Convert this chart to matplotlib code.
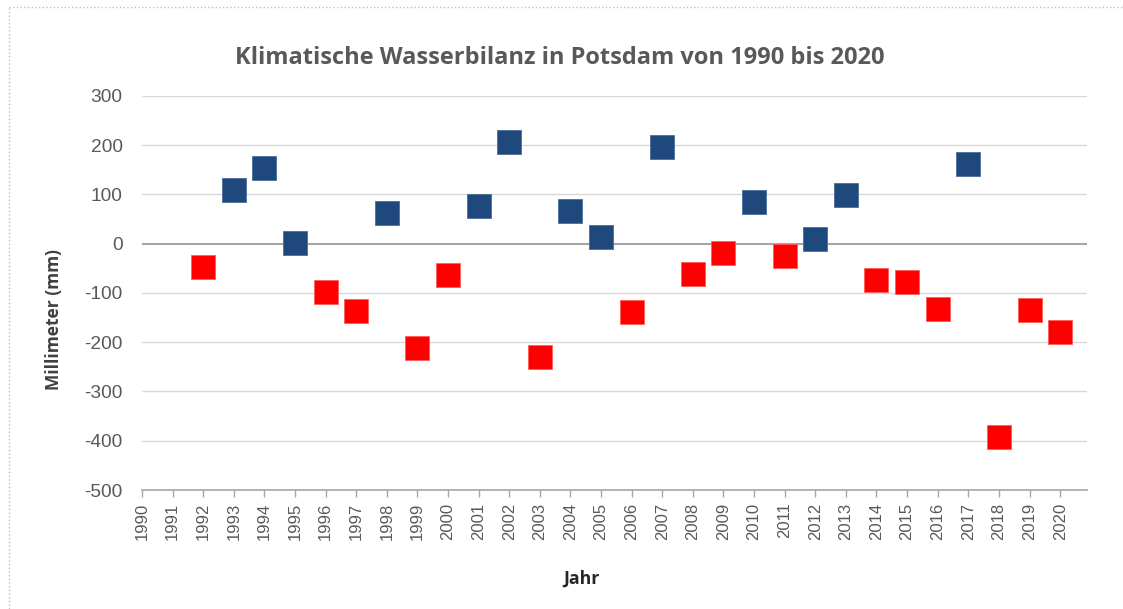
import matplotlib.pyplot as plt
from matplotlib.lines import Line2D
import numpy as np

# Klimatische Wasserbilanz Potsdam (mm)
jahre = list(range(1992, 2021))
bilanz = [-47, 109, 153, 1, -98, -136, 62, -212, -64, 77,
          207, -230, 66, 13, -138, 197, -62, -19, 84, -24,
          9, 99, -74, -77, -132, 162, -393, -134, -179]
alle_jahre = list(range(1990, 2021))
y_ticks = [300, 200, 100, 0, -100, -200, -300, -400, -500]

blau = "#1F497D"
rot = "#FF0000"
grau_text = "#595959"

jahre = np.array(jahre)
bilanz = np.array(bilanz)
pos = bilanz >= 0

fig = plt.figure(figsize=(11.23, 6.09), dpi=100)
ax = fig.add_axes([0.1264, 0.1954, 0.8416, 0.6470])

ax.set_xlim(1990, 2020.88)
ax.set_ylim(-500, 300)

# Gitterlinien
for t in y_ticks:
    if t == 0:
        ax.axhline(0, color="#A6A6A6", linewidth=1.5, zorder=1)
    elif t != -500:
        ax.axhline(t, color="#D9D9D9", linewidth=1.0, zorder=1)

ax.plot(jahre[pos], bilanz[pos], "s", color=blau, markersize=17.5,
        markeredgecolor="#4A6E9A", markeredgewidth=0.6, zorder=3)
ax.plot(jahre[~pos], bilanz[~pos], "s", color=rot, markersize=17.5,
        markeredgecolor="#FF5A5A", markeredgewidth=0.6, zorder=3)

for s in ["top", "right", "left"]:
    ax.spines[s].set_visible(False)
ax.spines["bottom"].set_color("#A6A6A6")
ax.spines["bottom"].set_linewidth(1.2)

ax.set_xticks(alle_jahre)
ax.set_xticklabels([str(j) for j in alle_jahre], rotation=90,
                   fontsize=12, color=grau_text, family="Liberation Sans")
ax.set_yticks(y_ticks)
ax.set_yticklabels([str(t) for t in y_ticks], fontsize=13.8,
                   color=grau_text, family="Liberation Sans")
ax.tick_params(axis="x", length=5, color="#A6A6A6", width=1.0, pad=4)
ax.tick_params(axis="y", length=0, pad=14)

fig.text(0.4987, 0.904, "Klimatische Wasserbilanz in Potsdam von 1990 bis 2020",
         ha="center", va="center", fontsize=17, fontweight="bold",
         color=grau_text, family="Open Sans")
fig.text(0.518, 0.049, "Jahr", ha="center", va="center", fontsize=12.8,
         fontweight="bold", color="#262626", family="Open Sans")
fig.text(0.048, 0.476, "Millimeter (mm)", ha="center", va="center",
         rotation=90, fontsize=12.5, fontweight="bold", color="#404040",
         family="Open Sans")

# gepunkteter Rahmen
fig.add_artist(Line2D([0.008, 1.0], [0.989, 0.989], color="#BFBFBF",
                      linewidth=1, linestyle=":", transform=fig.transFigure))
fig.add_artist(Line2D([0.008, 0.008], [0.0, 0.989], color="#BFBFBF",
                      linewidth=1, linestyle=":", transform=fig.transFigure))

plt.savefig("out.png", dpi=100)
